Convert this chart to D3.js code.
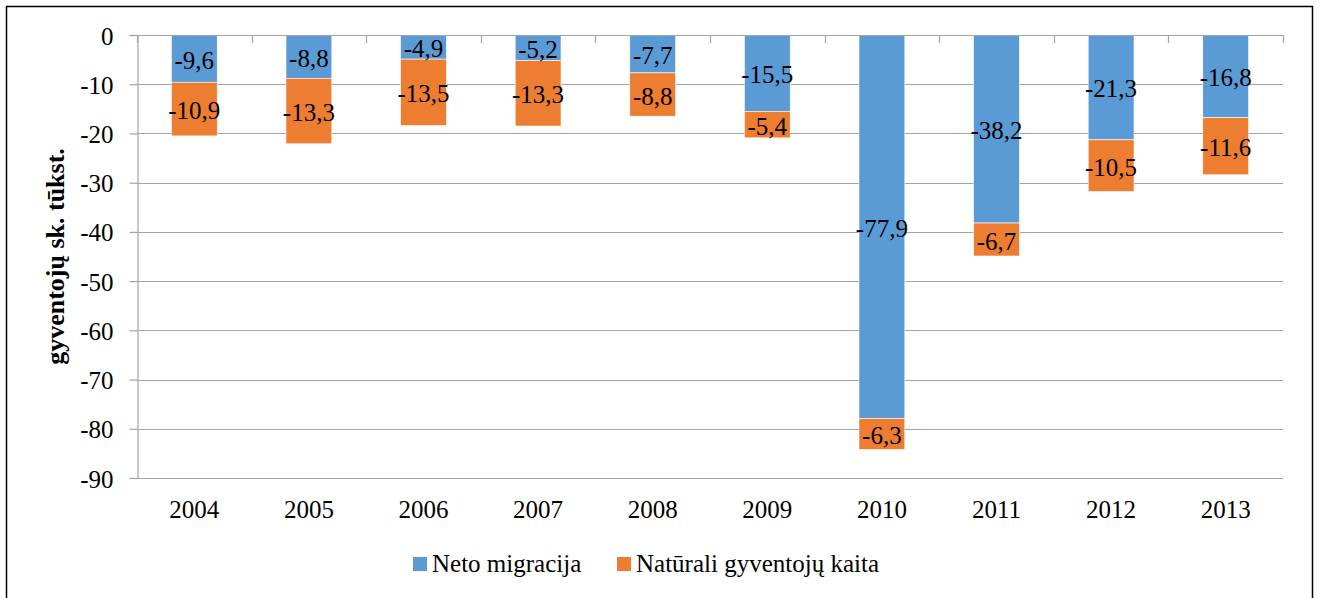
<!DOCTYPE html>
<html>
<head>
<meta charset="utf-8">
<script src="https://cdn.jsdelivr.net/npm/d3@7"></script>
<style>
  html, body { margin: 0; padding: 0; background: #fff; }
  svg { display: block; }
  text { font-family: "Liberation Serif", "Times New Roman", serif; fill: #000; }
</style>
</head>
<body>
<svg id="chart" width="1320" height="598"></svg>
<script>
const years = ["2004","2005","2006","2007","2008","2009","2010","2011","2012","2013"];
const netoMigracija = [-9.6, -8.8, -4.9, -5.2, -7.7, -15.5, -77.9, -38.2, -21.3, -16.8];
const naturaliKaita = [-10.9, -13.3, -13.5, -13.3, -8.8, -5.4, -6.3, -6.7, -10.5, -11.6];
const seriesNames = ["Neto migracija", "Natūrali gyventojų kaita"];
const yTicks = [0, -10, -20, -30, -40, -50, -60, -70, -80, -90];
const yTitle = "gyventojų sk. tūkst.";

(function () {
const colors = ["#5B9BD5", "#ED7D31"];
const keys = ["neto", "nat"];
const svg = d3.select("#chart");

// outer frame
svg.append("rect").attr("x", 6.5).attr("y", 6.5).attr("width", 1306).attr("height", 600)
  .attr("fill", "none").attr("stroke", "#000").attr("stroke-width", 1.5);

const pl = 137, pr = 1283, pt = 35, pb = 478;
const x = d3.scaleBand().domain(years).range([pl, pr]).paddingInner(0.6).paddingOuter(0.3);
const y = d3.scaleLinear().domain([0, -90]).range([pt, pb]);

const gridColor = "#a3a3a3";
const gw = 1.2;

// gridlines
svg.append("g").selectAll("line").data(yTicks.filter(d => d !== 0)).join("line")
  .attr("x1", pl).attr("x2", pr)
  .attr("y1", d => Math.round(y(d)) + 0.5).attr("y2", d => Math.round(y(d)) + 0.5)
  .attr("stroke", gridColor).attr("stroke-width", gw);

// stacked data
const data = years.map((yr, i) => ({ year: yr, neto: netoMigracija[i], nat: naturaliKaita[i] }));
const stack = d3.stack().keys(keys).offset(d3.stackOffsetDiverging);
const stacked = stack(data);

const gBars = svg.append("g");
stacked.forEach((s, si) => {
  gBars.append("g").selectAll("rect").data(s).join("rect")
    .attr("x", d => x(d.data.year))
    .attr("width", x.bandwidth())
    .attr("y", d => y(Math.max(d[0], d[1])))
    .attr("height", d => Math.abs(y(d[1]) - y(d[0])))
    .attr("fill", colors[si])
    .attr("stroke", "#fff").attr("stroke-width", 0.6);
});

// data labels
stacked.forEach((s, si) => {
  svg.append("g").selectAll("text").data(s).join("text")
    .attr("x", d => x(d.data.year) + x.bandwidth() / 2)
    .attr("y", d => (y(d[0]) + y(d[1])) / 2)
    .attr("dy", "0.4em")
    .attr("text-anchor", "middle")
    .style("font-size", "25px")
    .text(d => String(d.data[keys[si]].toFixed(1)).replace(".", ","));
});

// y axis
const yAxis = d3.axisLeft(y).tickValues(yTicks).tickSize(8).tickPadding(16)
  .tickFormat(d => String(d));
const gy = svg.append("g").attr("transform", `translate(${pl + 0.5},0)`).call(yAxis);
gy.select(".domain").attr("stroke", gridColor).attr("stroke-width", gw);
gy.selectAll(".tick line").attr("stroke", gridColor).attr("stroke-width", gw);
gy.selectAll(".tick text").style("font-size", "25px").attr("dy", "0.36em").attr("fill", "#000");

// category axis at value 0, ticks pointing down at category boundaries
svg.append("line").attr("x1", pl).attr("x2", pr)
  .attr("y1", Math.round(y(0)) + 0.5).attr("y2", Math.round(y(0)) + 0.5)
  .attr("stroke", gridColor).attr("stroke-width", gw);
const bx = d3.range(years.length + 1).map(i => pl + i * x.step());
svg.append("g").selectAll("line").data(bx).join("line")
  .attr("x1", d => Math.round(d) + 0.5).attr("x2", d => Math.round(d) + 0.5)
  .attr("y1", y(0)).attr("y2", y(0) + 8)
  .attr("stroke", gridColor).attr("stroke-width", gw);

// category labels below plot
svg.append("g").selectAll("text").data(years).join("text")
  .attr("x", d => x(d) + x.bandwidth() / 2)
  .attr("y", 518)
  .attr("text-anchor", "middle")
  .style("font-size", "25px")
  .text(d => d);

// y title
svg.append("text")
  .attr("transform", `translate(64, ${(pt + pb) / 2}) rotate(-90)`)
  .attr("text-anchor", "middle")
  .style("font-size", "26px").style("font-weight", "bold")
  .text(yTitle);

// legend
const legend = svg.append("g");
const legendX = [413, 617];
seriesNames.forEach((name, i) => {
  legend.append("rect").attr("x", legendX[i]).attr("y", 557).attr("width", 14).attr("height", 14)
    .attr("fill", colors[i]);
  legend.append("text").attr("x", legendX[i] + 19).attr("y", 572)
    .style("font-size", "25px").text(name);
});
})();
</script>
</body>
</html>
